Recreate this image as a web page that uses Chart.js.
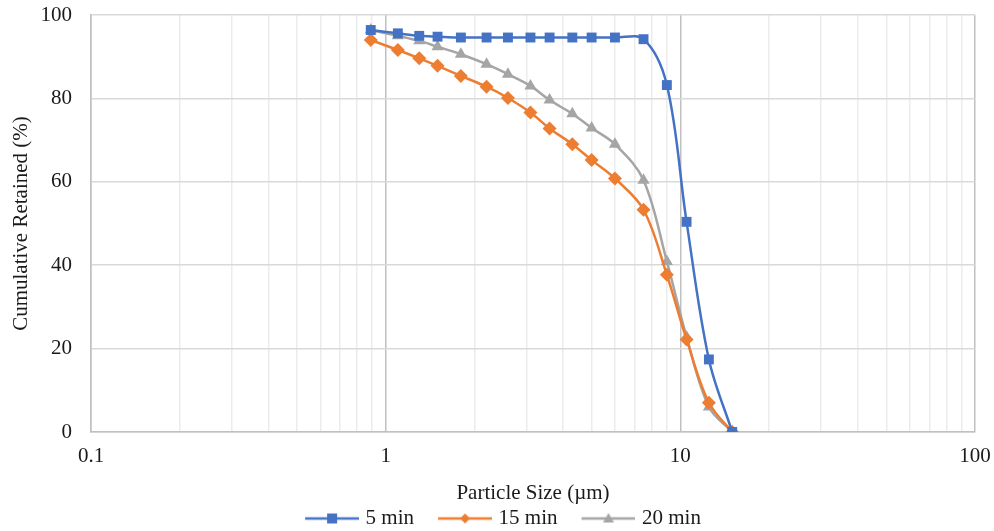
<!DOCTYPE html>
<html lang="en">
<head>
  <meta charset="UTF-8" />
  <title>Cumulative Retained vs Particle Size</title>
  <script src="https://cdn.jsdelivr.net/npm/chart.js"></script>
  <style>
    body { margin: 0; background: #ffffff; }
    #wrap { width: 994px; height: 531px; }
  </style>
</head>
<body>
<div id="wrap"><canvas id="psdChart"></canvas></div>

<script>
  // particle sizes (µm), shared by all three series
  const sizes = [0.89, 1.1, 1.3, 1.5, 1.8, 2.2, 2.6, 3.1, 3.6, 4.3, 5.0, 6.0, 7.5, 9.0, 10.5, 12.5, 15];

  // cumulative retained (%)
  const min5  = [96.4, 95.6, 95.0, 94.8, 94.6, 94.6, 94.6, 94.6, 94.6, 94.6, 94.6, 94.6, 94.2, 83.2, 50.4, 17.4, 0];
  const min15 = [94.0, 91.6, 89.6, 87.8, 85.4, 82.8, 80.1, 76.6, 72.8, 69.0, 65.2, 60.8, 53.3, 37.7, 22.2, 7.0, 0];
  const min20 = [96.4, 95.0, 93.8, 92.4, 90.6, 88.2, 85.8, 83.0, 79.6, 76.3, 72.9, 69.0, 60.4, 40.9, 22.8, 6.0, 0];

  const seriesNames = ["5 min", "15 min", "20 min"];
  const xLabelValues = [0.1, 1, 10, 100];

  const FONT = "'Liberation Serif', 'Times New Roman', serif";

  function toPoints(ys) {
    return sizes.map((x, i) => ({ x: x, y: ys[i] }));
  }

  // line + marker picture for the legend (left part left empty as item gap)
  function legendIcon(color, style) {
    const c = document.createElement("canvas");
    c.width = 80; c.height = 14;
    const g = c.getContext("2d");
    g.strokeStyle = color;
    g.lineWidth = 2.5;
    g.beginPath(); g.moveTo(26, 7); g.lineTo(80, 7); g.stroke();
    g.fillStyle = color;
    const cx = 53;
    g.beginPath();
    if (style === "rect") {
      g.rect(cx - 5, 2, 10, 10);
    } else if (style === "rectRot") {
      g.moveTo(cx, 2); g.lineTo(cx + 5, 7); g.lineTo(cx, 12); g.lineTo(cx - 5, 7);
    } else {
      g.moveTo(cx, 1.5); g.lineTo(cx + 5.5, 11); g.lineTo(cx - 5.5, 11);
    }
    g.closePath(); g.fill();
    return c;
  }

  const colors = ["#4472C4", "#ED7D31", "#A5A5A5"];
  const styles = ["rect", "rectRot", "triangle"];
  const radii = [7, 7, 7];
  const icons = colors.map((c, i) => legendIcon(c, styles[i]));

  const datasets = [min5, min15, min20].map((ys, i) => ({
    label: seriesNames[i],
    data: toPoints(ys),
    showLine: true,
    borderColor: colors[i],
    backgroundColor: colors[i],
    borderWidth: 2.5,
    pointStyle: styles[i],
    pointRadius: radii[i],
    pointBorderWidth: 0,
    tension: 0.35
  }));

  function isMajor(v) {
    return xLabelValues.some(m => Math.abs(m - v) < 1e-9);
  }

  new Chart(document.getElementById("psdChart"), {
    type: "scatter",
    data: { datasets: datasets },
    options: {
      responsive: true,
      maintainAspectRatio: false,
      animation: false,
      layout: { padding: { left: 9, right: 19, top: 15, bottom: -8 } },
      plugins: {
        tooltip: { enabled: false },
        legend: {
          position: "bottom",
          labels: {
            font: { family: FONT, size: 21 },
            color: "#1a1a1a",
            usePointStyle: true,
            pointStyleWidth: 72,
            padding: 2,
            generateLabels: function (chart) {
              const items = Chart.defaults.plugins.legend.labels.generateLabels(chart);
              items.forEach((it, i) => { it.pointStyle = icons[i]; });
              return items;
            }
          }
        }
      },
      scales: {
        x: {
          type: "logarithmic",
          min: 0.1,
          max: 100,
          afterBuildTicks: function (scale) {
            const t = [];
            for (let e = -1; e < 2; e++) {
              for (let s = 1; s < 10; s++) {
                t.push({ value: +(s * Math.pow(10, e)).toPrecision(3) });
              }
            }
            t.push({ value: 100 });
            scale.ticks = t;
          },
          afterFit: function (scale) {
            scale.height = 74;
            scale.paddingLeft = 0;
            scale.paddingRight = 0;
          },
          ticks: {
            autoSkip: false,
            maxRotation: 0,
            padding: 12,
            color: "#1a1a1a",
            font: { family: FONT, size: 21 },
            callback: function (v) { return isMajor(v) ? String(v) : ""; }
          },
          grid: {
            drawTicks: false,
            color: function (ctx) {
              return ctx.tick && isMajor(ctx.tick.value) ? "#c0c0c0" : "#ececec";
            },
            lineWidth: 1.5
          },
          border: { color: "#c0c0c0", width: 1.5 },
          title: {
            display: true,
            text: "Particle Size (µm)",
            color: "#1a1a1a",
            font: { family: FONT, size: 21 },
            padding: 0
          }
        },
        y: {
          min: 0,
          max: 100,
          afterFit: function (scale) {
            scale.width = 82;
            scale.paddingTop = 0;
            scale.paddingBottom = 0;
          },
          ticks: {
            stepSize: 20,
            padding: 19,
            color: "#1a1a1a",
            font: { family: FONT, size: 21 }
          },
          grid: { drawTicks: false, color: "#d9d9d9", lineWidth: 1.5 },
          border: { color: "#c0c0c0", width: 1.5 },
          title: {
            display: true,
            text: "Cumulative Retained (%)",
            color: "#1a1a1a",
            font: { family: FONT, size: 21 },
            padding: 0
          }
        }
      }
    }
  });
</script>
</body>
</html>
